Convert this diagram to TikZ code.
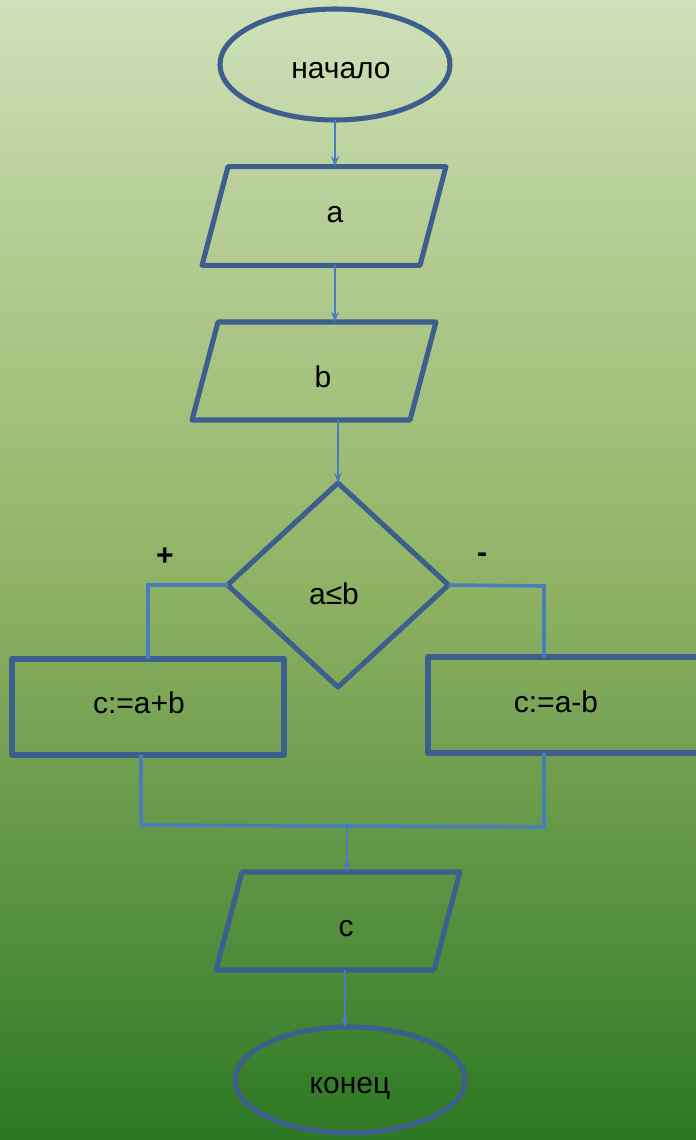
\documentclass[tikz,border=0pt]{standalone}
\usepackage{fontspec}
\setmainfont{Liberation Sans}
\usetikzlibrary{shapes.geometric,arrows.meta,calc}

\definecolor{shapeline}{RGB}{60,95,142}
\definecolor{connline}{RGB}{74,125,190}

% background: light sage at the top, deep green at the bottom
\pgfdeclareverticalshading{meadow}{100bp}{%
  rgb(0bp)=(0.176,0.471,0.137);
  rgb(25bp)=(0.176,0.471,0.137);
  rgb(34.43bp)=(0.329,0.561,0.243);
  rgb(44.3bp)=(0.486,0.651,0.341);
  rgb(49.12bp)=(0.557,0.698,0.392);
  rgb(58.33bp)=(0.651,0.761,0.502);
  rgb(66.23bp)=(0.725,0.812,0.600);
  rgb(75bp)=(0.816,0.882,0.729);
  rgb(100bp)=(0.816,0.882,0.729)}

\begin{document}
\begin{tikzpicture}[x=0.75pt,y=-0.75pt,
  every node/.style={inner sep=0pt,outer sep=0pt},
  txt/.style={font=\fontsize{22.5}{27}\selectfont},
  sign/.style={font=\bfseries\fontsize{22.5}{27}\selectfont},
  shp/.style={draw=shapeline,line width=3.8pt,line join=round},
  term/.style={shp,ellipse,minimum width=172.5pt},
  % the empty 4pt core is stretched to the full size; the angles are set
  % so that the stretched sides lean by about 19.5pt
  io/.style={shp,trapezium,inner sep=2pt,trapezium left angle=82.3,trapezium right angle=97.7,
    trapezium stretches=true,minimum width=183pt,minimum height=74pt},
  proc/.style={shp,rectangle,minimum width=204pt,minimum height=72pt},
  cond/.style={shp,diamond,minimum width=165.75pt,minimum height=153pt},
  arr/.style={draw=connline,line width=1.5pt,-{Stealth[length=8pt,width=6pt,inset=3pt]}},
  branch/.style={draw=connline,line width=2.7pt,line join=miter}
]
\useasboundingbox (0,0) rectangle (696,1140);
\shade[shading=meadow] (0,0) rectangle (696,1140);

% blocks
\node[term,minimum height=83.25pt,label={[txt,shift={(6,6.5)}]center:начало}] (start) at (335,64.5) {};
\node[io,label={[txt,shift={(11,-1)}]center:a}] (pa) at (324,216) {};
\node[io,minimum height=73.5pt,label={[txt,shift={(9,6)}]center:b}] (pb) at (314,371) {};
\node[cond,label={[txt,shift={(-4,9)}]center:a≤b}] (dec) at (338,585) {};
\node[proc,label={[txt,shift={(-9,-4)}]center:c:=a+b}] (left) at (148,707) {};
\node[proc,label={[txt,shift={(-8,-3)}]center:c:=a-b}] (right) at (564,705) {};
\node[io,minimum height=73.5pt,label={[txt,shift={(8,8)}]center:c}] (pc) at (338,921) {};
\node[term,minimum height=79.5pt,label={[txt,shift={(0,8)}]center:конец}] (stop) at (350,1080) {};

% branch signs
\node[sign] (yes) at (165,557) {+};
\node[sign] (no) at (482,558) {-};

% bend points of the branch lines
\coordinate (rj) at (544,586);
\coordinate (mL) at (141,825);
\coordinate (mR) at (544,827);
\coordinate (mC) at (347,826);

% flow
\draw[arr] (start.south) -- (start.south |- pa.north);
\draw[arr] (pa.south -| start.south) -- (pb.north -| start.south);
\draw[arr] (pb.south -| dec.north) -- (dec.north);
\draw[branch] (dec.west) -- (dec.west -| left.north) -- (left.north);
\draw[branch] (dec.east) -- (rj) -- (rj |- right.north);
\draw[branch] (left.south -| mL) -- (mL) -- (mR) -- (right.south -| mR);
\draw[arr] (mC) -- (pc.north -| mC);
\draw[arr] ($(pc.south)+(7,0)$) -- ($(stop.north)+(-5,0)$);
\end{tikzpicture}
\end{document}
